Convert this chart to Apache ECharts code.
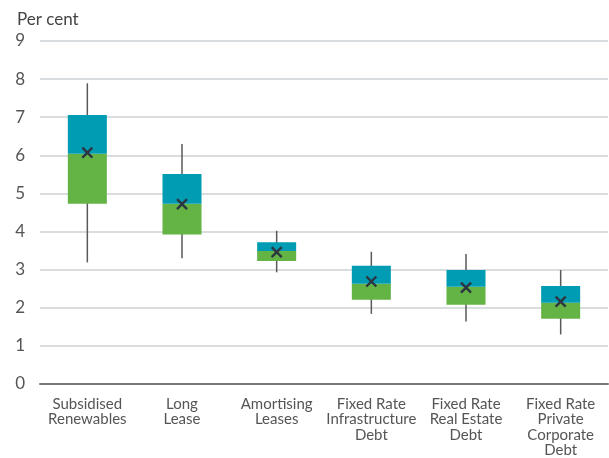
<!DOCTYPE html>
<html>
<head>
<meta charset="utf-8">
<script src="https://cdn.jsdelivr.net/npm/echarts@6/dist/echarts.min.js"></script>
<style>
html,body{margin:0;padding:0;background:#fff;}
#chart{width:609px;height:458px;}
</style>
</head>
<body>
<div id="chart"></div>
<script>
const categories = ["Subsidised\nRenewables", "Long\nLease", "Amortising\nLeases", "Fixed Rate\nInfrastructure\nDebt", "Fixed Rate\nReal Estate\nDebt", "Fixed Rate\nPrivate\nCorporate\nDebt"];
const whiskerLow = [3.19, 3.30, 2.93, 1.84, 1.64, 1.30];
const q1 = [4.73, 3.92, 3.23, 2.21, 2.08, 1.71];
const median = [6.04, 4.73, 3.49, 2.63, 2.55, 2.13];
const q3 = [7.06, 5.51, 3.72, 3.10, 2.99, 2.57];
const whiskerHigh = [7.89, 6.30, 4.02, 3.47, 3.41, 2.99];
const mean = [6.07, 4.72, 3.46, 2.69, 2.53, 2.16];
const yTicks = [0, 1, 2, 3, 4, 5, 6, 7, 8, 9];

const FONT = 'Lato';
const chart = echarts.init(document.getElementById('chart'), null, {renderer: 'canvas'});

const lowerPart = median.map((m, i) => +(m - q1[i]).toFixed(3));
const upperPart = q3.map((v, i) => +(v - median[i]).toFixed(3));

chart.setOption({
  animation: false,
  textStyle: {fontFamily: FONT},
  title: {
    text: 'Per cent', left: 12, top: 6,
    textStyle: {fontFamily: FONT, fontSize: 17, fontWeight: 'normal', color: '#444'}
  },
  grid: {left: 40, right: 1, top: 41, bottom: 73.5},
  xAxis: {
    type: 'category',
    data: categories,
    axisLine: {lineStyle: {color: '#777', width: 2}},
    axisTick: {alignWithLabel: true, length: 6, lineStyle: {color: '#666', width: 1.5}},
    axisLabel: {fontFamily: FONT, fontSize: 15, color: '#555', lineHeight: 15.5, margin: 12, interval: 0, align: 'center'}
  },
  yAxis: {
    type: 'value', min: yTicks[0], max: yTicks[yTicks.length - 1], interval: 1,
    axisLine: {show: false}, axisTick: {show: false},
    axisLabel: {fontFamily: FONT, fontSize: 17, color: '#555', margin: 15},
    splitLine: {lineStyle: {color: '#cdd2d6', width: 1.5}}
  },
  series: [
    {
      type: 'custom', z: 1,
      renderItem: function (params, api) {
        const x = api.value(0);
        const lo = api.coord([x, api.value(1)]);
        const hi = api.coord([x, api.value(2)]);
        return {type: 'line', shape: {x1: lo[0], y1: lo[1], x2: hi[0], y2: hi[1]},
          style: {stroke: '#5a5a5a', lineWidth: 1.5}};
      },
      data: categories.map((c, i) => [i, whiskerLow[i], whiskerHigh[i]])
    },
    {type: 'bar', stack: 'box', barWidth: 39, z: 2, itemStyle: {color: 'rgba(0,0,0,0)'}, data: q1, silent: true},
    {type: 'bar', stack: 'box', barWidth: 39, z: 2, itemStyle: {color: '#63b345'}, data: lowerPart},
    {type: 'bar', stack: 'box', barWidth: 39, z: 2, itemStyle: {color: '#009cb3'}, data: upperPart},
    {
      type: 'custom', z: 5,
      renderItem: function (params, api) {
        const p = api.coord([api.value(0), api.value(1)]);
        const s = 5;
        const st = {stroke: '#2c3640', lineWidth: 2.4};
        return {type: 'group', children: [
          {type: 'line', shape: {x1: p[0] - s, y1: p[1] - s, x2: p[0] + s, y2: p[1] + s}, style: st},
          {type: 'line', shape: {x1: p[0] - s, y1: p[1] + s, x2: p[0] + s, y2: p[1] - s}, style: st}
        ]};
      },
      data: mean.map((m, i) => [i, m])
    }
  ]
});
</script>
</body>
</html>
